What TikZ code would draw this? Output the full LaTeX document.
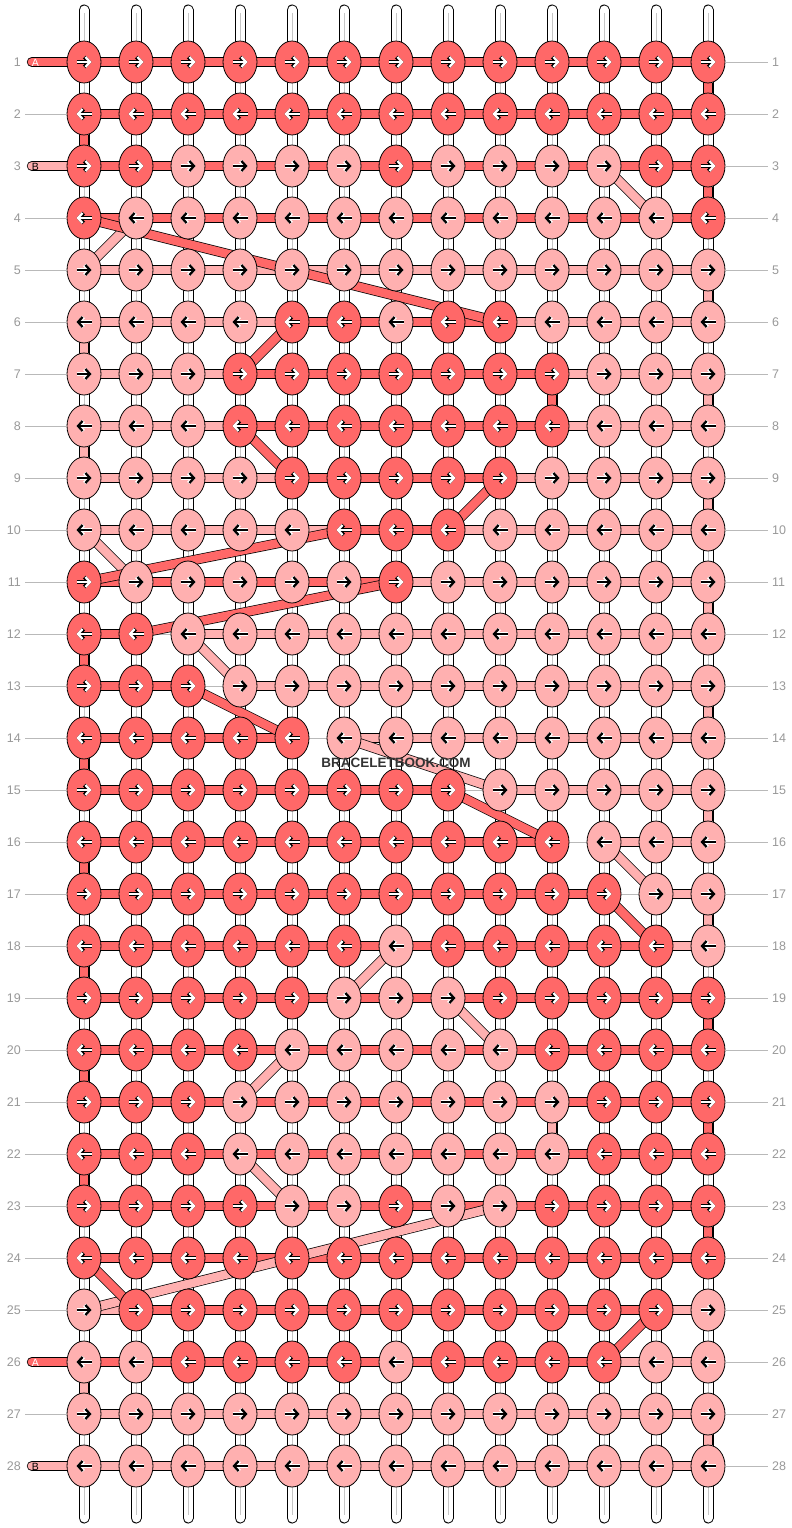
\documentclass[tikz,border=0pt]{standalone}
\usepackage{fontspec}
\setmainfont{Liberation Sans}
\usetikzlibrary{shapes.geometric,arrows.meta}
\definecolor{thrD}{HTML}{FF6868}
\definecolor{thrL}{HTML}{FFB0B0}
\definecolor{numgray}{HTML}{999999}
\pgfdeclarelayer{bg}
\pgfdeclarelayer{strings}
\pgfdeclarelayer{threads}
\pgfsetlayers{bg,strings,threads,main}

\begin{document}
\begin{tikzpicture}[x=1pt,y=-1pt,
  knot/.style={ellipse,draw=black,line width=0.8pt,fill=thr#1,minimum width=34pt,minimum height=42pt,inner sep=0pt},
  band/.style={draw=black,line width=0.7pt,double=thr#1,double distance=8.6pt},
  segD/.style={band=D}, segL/.style={band=L},
  segN/.style={draw=gray!55,line width=0.7pt},
  diag/.style={band=#1,shorten <=-2pt,shorten >=-2pt},
  basestring/.style={draw=black,line width=11pt,line cap=round,
    postaction={draw=white,line width=9pt},
    postaction={draw=gray!45,line width=0.5pt,line cap=butt,shorten <=3pt,shorten >=3pt}},
  endtab/.style={draw=black,line width=10.4pt,line cap=round,postaction={draw=thr#1,line width=8.8pt}},
  arrD/.style={-{Straight Barb[length=4.5pt,width=10pt]},draw=white,line width=2.3pt,preaction={draw=black,line width=3.9pt}},
  arrL/.style={-{Straight Barb[length=4.5pt,width=10pt]},draw=black,line width=2.3pt,preaction={draw=white,line width=3.7pt}},
  lab/.style={text=numgray,font=\fontsize{12.5}{14}\selectfont,inner sep=4pt},
  numline/.style={draw=gray!55,line width=0.7pt}]

\useasboundingbox (0,0) rectangle (792,1528);
\begin{pgfonlayer}{bg}
  \fill[white] (0,0) rectangle (792,1528);
\end{pgfonlayer}

% knots, row by row
\foreach \i/\kk in {
  1/{D,D,D,D,D,D,D,D,D,D,D,D,D},
  2/{D,D,D,D,D,D,D,D,D,D,D,D,D},
  3/{D,D,L,L,L,L,D,L,L,L,L,D,D},
  4/{D,L,L,L,L,L,L,L,L,L,L,L,D},
  5/{L,L,L,L,L,L,L,L,L,L,L,L,L},
  6/{L,L,L,L,D,D,L,D,D,L,L,L,L},
  7/{L,L,L,D,D,D,D,D,D,D,L,L,L},
  8/{L,L,L,D,D,D,D,D,D,D,L,L,L},
  9/{L,L,L,L,D,D,D,D,D,L,L,L,L},
  10/{L,L,L,L,L,D,D,D,L,L,L,L,L},
  11/{D,L,L,L,L,L,D,L,L,L,L,L,L},
  12/{D,D,L,L,L,L,L,L,L,L,L,L,L},
  13/{D,D,D,L,L,L,L,L,L,L,L,L,L},
  14/{D,D,D,D,D,L,L,L,L,L,L,L,L},
  15/{D,D,D,D,D,D,D,D,L,L,L,L,L},
  16/{D,D,D,D,D,D,D,D,D,D,L,L,L},
  17/{D,D,D,D,D,D,D,D,D,D,D,L,L},
  18/{D,D,D,D,D,D,L,D,D,D,D,D,L},
  19/{D,D,D,D,D,L,L,L,D,D,D,D,D},
  20/{D,D,D,D,L,L,L,L,L,D,D,D,D},
  21/{D,D,D,L,L,L,L,L,L,L,D,D,D},
  22/{D,D,D,L,L,L,L,L,L,L,D,D,D},
  23/{D,D,D,D,L,L,D,L,L,D,D,D,D},
  24/{D,D,D,D,D,D,D,D,D,D,D,D,D},
  25/{L,D,D,D,D,D,D,D,D,D,D,D,L},
  26/{L,L,D,D,D,D,L,D,D,D,D,L,L},
  27/{L,L,L,L,L,L,L,L,L,L,L,L,L},
  28/{L,L,L,L,L,L,L,L,L,L,L,L,L}}{
  \foreach \k [count=\j] in \kk {
    \node[knot=\k] (k-\i-\j) at ({84+52*(\j-1)},{62+52*(\i-1)}) {};
    \ifodd\i
      \draw[arr\k] ([xshift=-7.5pt]k-\i-\j.center) -- ([xshift=7.5pt]k-\i-\j.center);
    \else
      \draw[arr\k] ([xshift=7.5pt]k-\i-\j.center) -- ([xshift=-7.5pt]k-\i-\j.center);
    \fi
  }
}

% white base strings
\begin{pgfonlayer}{strings}
\foreach \j in {1,...,13}{
  \coordinate (top-\j) at ({84+52*(\j-1)},10);
  \coordinate (bot-\j) at ({84+52*(\j-1)},1518);
  \draw[basestring] (top-\j) -- (bot-\j);
}
\end{pgfonlayer}

\begin{pgfonlayer}{threads}
% threads between knots of a row
\foreach \i/\ss in {
  1/{D,D,D,D,D,D,D,D,D,D,D,D},
  2/{D,D,D,D,D,D,D,D,D,D,D,D},
  3/{D,D,D,D,D,D,D,D,D,D,D,D},
  4/{D,D,D,D,D,D,D,D,D,D,D,D},
  5/{L,L,L,L,L,L,L,L,L,L,L,L},
  6/{L,L,L,L,D,D,D,D,L,L,L,L},
  7/{L,L,L,D,D,D,D,D,D,L,L,L},
  8/{L,L,L,D,D,D,D,D,D,L,L,L},
  9/{L,L,L,L,D,D,D,D,L,L,L,L},
  10/{L,L,L,L,L,D,D,L,L,L,L,L},
  11/{D,D,D,D,D,D,L,L,L,L,L,L},
  12/{D,N,L,L,L,L,L,L,L,L,L,L},
  13/{D,D,N,L,L,L,L,L,L,L,L,L},
  14/{D,D,D,D,N,L,L,L,L,L,L,L},
  15/{D,D,D,D,D,D,D,N,L,L,L,L},
  16/{D,D,D,D,D,D,D,D,D,N,L,L},
  17/{D,D,D,D,D,D,D,D,D,D,N,L},
  18/{D,D,D,D,D,D,D,D,D,D,D,L},
  19/{D,D,D,D,D,D,D,D,D,D,D,D},
  20/{D,D,D,D,D,D,D,D,D,D,D,D},
  21/{D,D,D,D,D,D,D,D,D,D,D,D},
  22/{D,D,D,D,D,D,D,D,D,D,D,D},
  23/{D,D,D,D,D,D,D,D,D,D,D,D},
  24/{D,D,D,D,D,D,D,D,D,D,D,D},
  25/{L,D,D,D,D,D,D,D,D,D,D,L},
  26/{D,D,D,D,D,D,D,D,D,D,L,L},
  27/{L,L,L,L,L,L,L,L,L,L,L,L},
  28/{L,L,L,L,L,L,L,L,L,L,L,L}}{
  \foreach \s [count=\j] in \ss {
    \pgfmathtruncatemacro\n{\j+1}
    \draw[seg\s] (k-\i-\j) -- (k-\i-\n);
  }
}
% turns from one row to the next
\foreach \a/\b/\j/\t in {1/2/13/D, 2/3/1/D, 3/4/13/D, 5/6/13/L, 6/7/1/L, 7/8/13/L,
  8/9/1/L, 9/10/13/L, 11/12/13/L, 12/13/1/D, 13/14/13/L, 14/15/1/D, 15/16/13/L,
  16/17/1/D, 17/18/13/L, 18/19/1/D, 19/20/13/D, 20/21/1/D, 21/22/13/D, 22/23/1/D,
  23/24/13/D, 26/27/1/L, 27/28/13/L, 7/8/10/D, 21/22/10/L}
  \draw[band=\t] (k-\a-\j) -- (k-\b-\j);
% carried threads
\foreach \a/\p/\b/\q/\t in {3/11/4/12/L, 4/2/5/1/L, 4/1/6/9/D, 6/5/7/4/D, 8/4/9/5/D,
  9/9/10/8/D, 10/1/11/2/L, 11/1/10/6/D, 12/2/11/7/D, 12/3/13/4/L, 13/3/14/5/D,
  14/6/15/9/L, 15/8/16/10/D, 16/11/17/12/L, 17/11/18/12/D, 18/7/19/6/L,
  19/8/20/9/L, 20/5/21/4/L, 22/4/23/5/L, 25/1/23/9/L, 24/1/25/2/D, 25/12/26/11/D}
  \draw[diag=\t] (k-\a-\p) -- (k-\b-\q);
% loose ends A and B
\foreach \i/\t in {1/D, 3/L, 26/D, 28/L}{
  \coordinate (tab-\i) at (32,{62+52*(\i-1)});
  \draw[endtab=\t] (tab-\i) -- (k-\i-1);
}
\end{pgfonlayer}

\foreach \i/\txt/\tc in {1/A/white, 3/B/black, 26/A/white, 28/B/black}
  \node[font=\fontsize{10.5}{11}\selectfont,text=\tc,inner sep=0pt] (tl-\i) at (35.5,{62.5+52*(\i-1)}) {\txt};

% row numbers
\foreach \i in {1,...,28}{
  \node[lab,anchor=east] (ll-\i) at (25,{62+52*(\i-1)}) {\i};
  \node[lab,anchor=west] (rl-\i) at (768,{62+52*(\i-1)}) {\i};
  \draw[numline] (k-\i-13) -- (rl-\i);
}
\foreach \i in {2,4,5,6,...,25,27}
  \draw[numline] (ll-\i) -- (k-\i-1);

\node[font=\bfseries\fontsize{13.5}{15}\selectfont,text=black!80] (logo) at (396,763) {BRACELETBOOK.COM};

\end{tikzpicture}
\end{document}
